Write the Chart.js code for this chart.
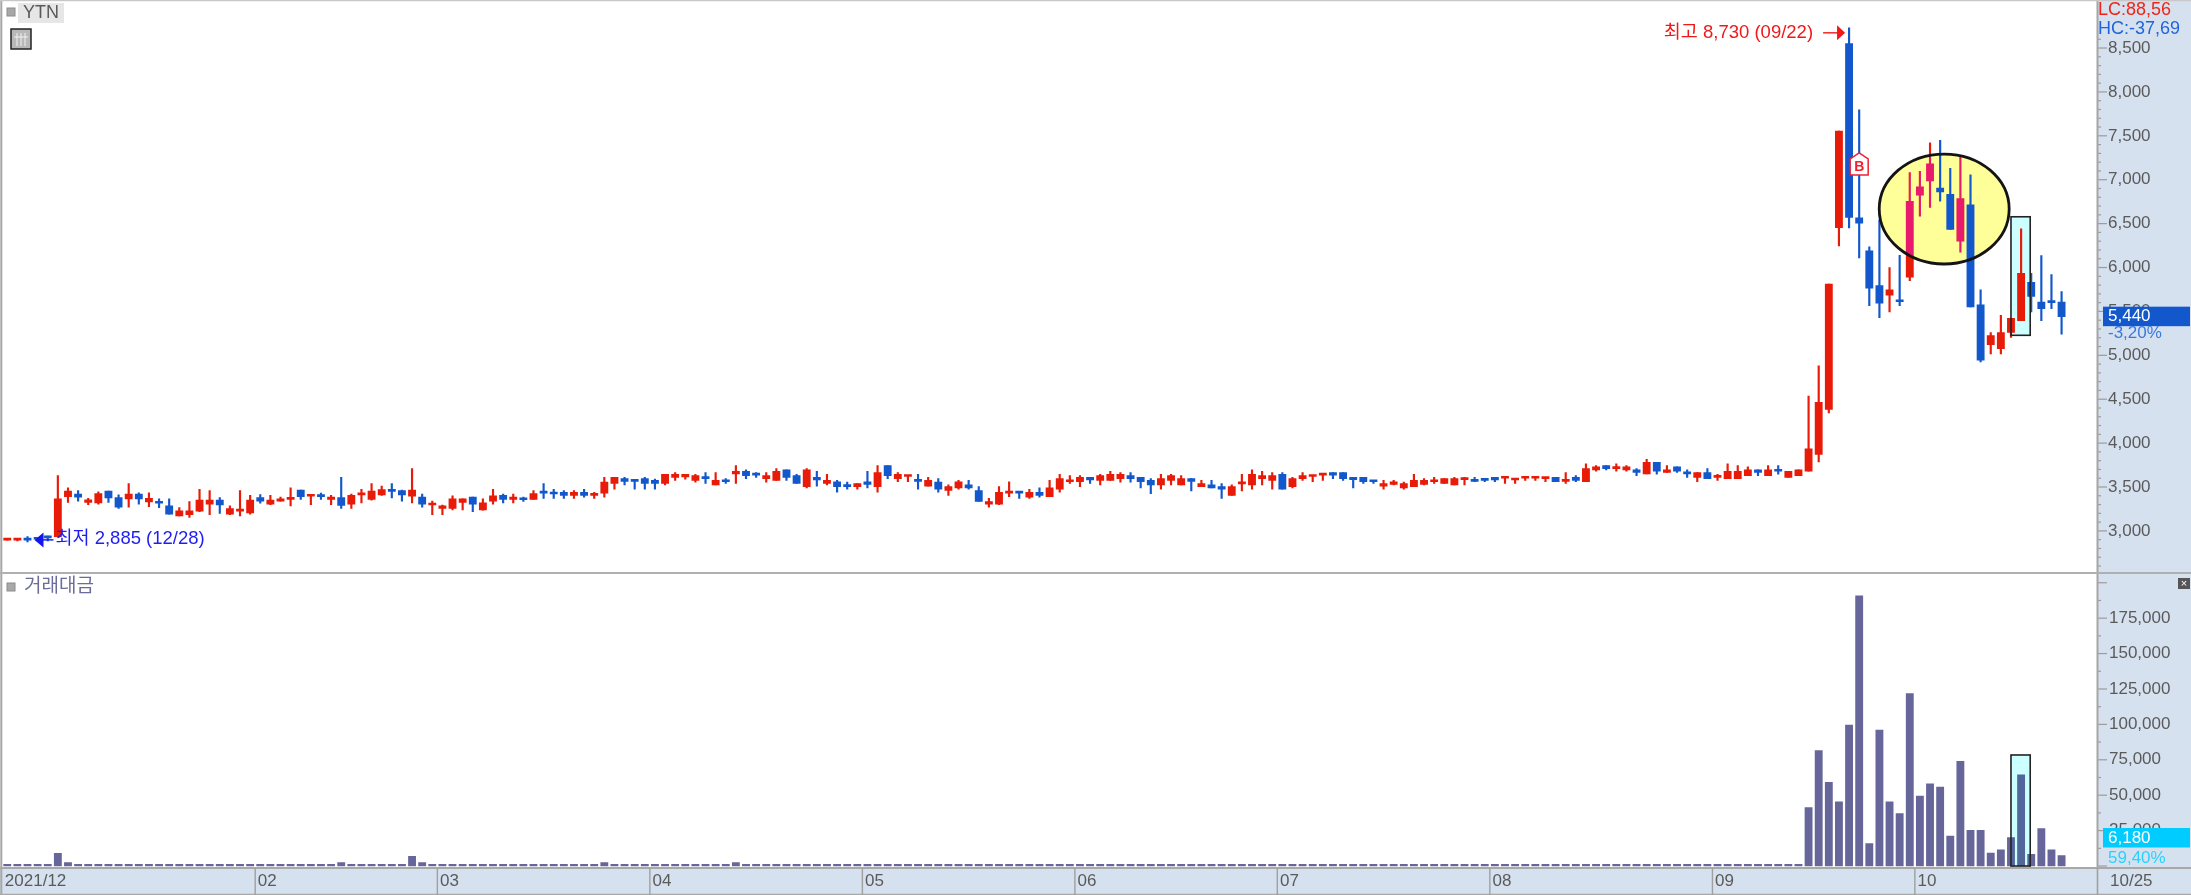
<!DOCTYPE html>
<html lang="ko">
<head>
<meta charset="utf-8">
<title>YTN</title>
<script src="https://cdn.jsdelivr.net/npm/chart.js@4/dist/chart.umd.min.js"></script>
<style>
html,body{margin:0;padding:0;background:#d6e1ef;overflow:hidden}
#wrap{position:relative;width:2191px;height:895px}
canvas{position:absolute;left:0;display:block}
#priceCanvas{top:0}
#volumeCanvas{top:572px}
</style>
</head>
<body>
<div id="wrap">
<canvas id="priceCanvas" width="2191" height="572"></canvas>
<canvas id="volumeCanvas" width="2191" height="323"></canvas>
</div>
<script>
const opens = [
2895,2895,2915,2910,2925,2935,3390,3420,3325,3320,
3455,3380,3365,3420,3330,3335,3285,3170,3185,3225,
3305,3350,3190,3225,3205,3380,3305,3340,3360,3465,
3395,3405,3360,3380,3305,3410,3360,3410,3470,3460,
3395,3385,3295,3255,3255,3325,3385,3240,3340,3405,
3360,3370,3360,3440,3440,3440,3405,3440,3405,3430,
3540,3595,3575,3595,3575,3540,3610,3615,3575,3610,
3525,3575,3650,3680,3650,3595,3575,3695,3630,3505,
3610,3540,3560,3525,3505,3560,3505,3745,3595,3620,
3575,3510,3555,3460,3490,3525,3460,3305,3305,3430,
3440,3385,3440,3390,3475,3560,3560,3610,3575,3575,
3595,3630,3610,3575,3525,3575,3525,3595,3505,3525,
3505,3405,3535,3525,3595,3575,3645,3505,3595,3620,
3635,3665,3665,3610,3610,3575,3510,3530,3490,3505,
3530,3560,3540,3525,3585,3575,3595,3610,3600,3580,
3600,3600,3595,3610,3565,3610,3560,3695,3745,3710,
3695,3695,3650,3780,3665,3730,3665,3610,3665,3610,
3595,3595,3630,3695,3630,3695,3610,3630,3680,3870,
4385,6455,8550,6565,6190,5795,5685,5630,5890,6825,
6985,6905,6835,6300,6715,5575,5120,5075,5260,5395,
5830,5605,5620,5605];
const highs = [
2900,2900,2935,2925,2940,3630,3490,3460,3370,3445,
3455,3410,3540,3435,3435,3365,3365,3265,3335,3475,
3460,3380,3285,3460,3405,3415,3405,3385,3490,3465,
3405,3430,3405,3610,3420,3475,3540,3510,3540,3465,
3710,3420,3340,3295,3400,3365,3385,3365,3475,3420,
3420,3385,3460,3540,3475,3460,3460,3475,3440,3610,
3610,3610,3575,3610,3590,3645,3665,3645,3645,3665,
3665,3595,3745,3695,3665,3665,3710,3695,3645,3710,
3680,3645,3575,3555,3540,3680,3745,3745,3665,3630,
3645,3610,3595,3525,3575,3575,3505,3370,3505,3560,
3440,3475,3490,3575,3645,3630,3630,3610,3645,3680,
3665,3665,3610,3595,3645,3645,3630,3595,3575,3575,
3540,3525,3645,3695,3680,3665,3665,3610,3665,3630,
3645,3665,3665,3610,3610,3575,3575,3575,3555,3645,
3595,3610,3595,3610,3610,3610,3595,3610,3610,3595,
3610,3610,3610,3610,3665,3630,3765,3745,3745,3765,
3745,3710,3815,3780,3745,3730,3695,3665,3710,3645,
3765,3745,3730,3695,3745,3745,3680,3695,4535,4880,
5810,7555,8730,7795,6235,6540,6000,6140,7080,7095,
7420,7450,7130,7255,7055,5745,5260,5455,5420,6440,
5935,6135,5920,5725];
const lows = [
2895,2885,2875,2890,2885,2935,3325,3340,3300,3305,
3325,3255,3270,3305,3275,3265,3190,3170,3155,3220,
3185,3200,3185,3170,3190,3315,3300,3340,3285,3360,
3300,3360,3300,3255,3255,3320,3350,3405,3375,3340,
3320,3270,3185,3185,3240,3240,3220,3235,3305,3320,
3320,3335,3360,3370,3370,3370,3370,3385,3370,3385,
3475,3525,3475,3475,3475,3525,3575,3590,3555,3540,
3525,3540,3540,3595,3610,3555,3575,3575,3540,3490,
3510,3525,3440,3475,3475,3490,3440,3595,3560,3560,
3475,3510,3440,3405,3475,3475,3335,3270,3300,3390,
3370,3370,3385,3390,3440,3540,3505,3540,3525,3575,
3555,3555,3490,3425,3475,3525,3525,3455,3505,3490,
3370,3405,3455,3475,3525,3475,3475,3490,3575,3560,
3575,3595,3575,3490,3540,3540,3475,3525,3475,3505,
3525,3540,3540,3525,3525,3560,3560,3560,3540,3540,
3575,3575,3560,3560,3540,3560,3560,3680,3695,3680,
3680,3630,3650,3645,3665,3665,3610,3560,3595,3575,
3595,3595,3630,3630,3630,3645,3610,3630,3680,3785,
4345,6245,6450,6110,5565,5430,5495,5565,5850,6585,
6685,6755,6435,6175,5550,4925,5015,5015,5205,5395,
5495,5395,5530,5240];
const closes = [
2900,2900,2895,2905,2920,3365,3455,3385,3355,3425,
3375,3270,3420,3365,3370,3315,3190,3230,3230,3350,
3350,3295,3255,3235,3350,3340,3350,3365,3380,3390,
3405,3390,3385,3290,3405,3430,3455,3470,3450,3410,
3465,3305,3305,3285,3365,3365,3305,3320,3400,3360,
3385,3355,3425,3430,3420,3405,3440,3405,3420,3555,
3610,3565,3565,3540,3540,3645,3645,3645,3630,3595,
3575,3560,3680,3630,3635,3630,3680,3610,3540,3695,
3580,3575,3505,3505,3540,3530,3665,3630,3645,3630,
3565,3575,3475,3505,3560,3490,3335,3335,3440,3440,
3430,3440,3405,3490,3595,3575,3610,3580,3630,3645,
3645,3595,3560,3525,3595,3630,3595,3565,3540,3490,
3475,3505,3540,3645,3630,3630,3475,3595,3630,3630,
3645,3635,3595,3585,3560,3560,3540,3560,3540,3575,
3575,3575,3595,3595,3595,3565,3575,3580,3610,3595,
3610,3610,3610,3560,3575,3575,3710,3730,3710,3725,
3730,3665,3780,3680,3695,3680,3650,3665,3595,3630,
3680,3680,3695,3665,3695,3680,3680,3695,3935,4465,
5810,7555,6570,6505,5765,5595,5745,5610,6755,6920,
7180,6860,6435,6785,5550,4945,5225,5260,5420,5935,
5670,5530,5600,5440];
const volumes = [
1200,1200,1200,1200,1200,9000,2500,1200,1200,1200,
1200,1200,1200,1200,1200,1200,1200,1200,1200,1200,
1200,1200,1200,1200,1200,1200,1200,1200,1200,1200,
1200,1200,1200,2500,1200,1200,1200,1200,1200,1200,
6800,2500,1200,1200,1200,1200,1200,1200,1200,1200,
1200,1200,1200,1200,1200,1200,1200,1200,1200,2500,
1200,1200,1200,1200,1200,1200,1200,1200,1200,1200,
1200,1200,2500,1200,1200,1200,1200,1200,1200,1200,
1200,1200,1200,1200,1200,1200,1200,1200,1200,1200,
1200,1200,1200,1200,1200,1200,1200,1200,1200,1200,
1200,1200,1200,1200,1200,1200,1200,1200,1200,1200,
1200,1200,1200,1200,1200,1200,1200,1200,1200,1200,
1200,1200,1200,1200,1200,1200,1200,1200,1200,1200,
1200,1200,1200,1200,1200,1200,1200,1200,1200,1200,
1200,1200,1200,1200,1200,1200,1200,1200,1200,1200,
1200,1200,1200,1200,1200,1200,1200,1200,1200,1200,
1200,1200,1200,1200,1200,1200,1200,1200,1200,1200,
1200,1200,1200,1200,1200,1200,1200,1200,41200,81450,
59100,45400,99600,190700,15800,96000,45400,37000,121700,49400,
58100,55800,21200,73900,25200,25200,9200,11500,20000,64300,
8200,26400,11500,7300];
const priceTicks = [3000,3500,4000,4500,5000,5500,6000,6500,7000,7500,8000,8500];
const volumeTicks = [25000,50000,75000,100000,125000,150000,175000];
const monthTickIndex = [0,25,43,64,85,106,126,147,169,189];
const monthTickText = ['2021/12','02','03','04','05','06','07','08','09','10'];
const emptySlotsAtRight = 3;
const lastDateText = '10/25';
const highNote = '최고 8,730 (09/22)';
const lowNote = '최저 2,885 (12/28)';
const volumeTitle = '거래대금';
const symbolName = 'YTN';
const lcText = 'LC:88,56';
const hcText = 'HC:-37,69';
const lastPriceText = '5,440';
const lastPriceChange = '-3,20%';
const lastVolumeText = '6,180';
const lastVolumeChange = '59,40%';

const RED='#e81a08', BLUE='#1258cc', VOL='#66669a', BAND='#d6e1ef', GREY='#a6a6a6', TXT='#5a5a5a';
const FONT='"Liberation Sans","Noto Sans CJK KR",sans-serif';
const slotCount = opens.length + emptySlotsAtRight;
const slotLabels = Array.from({length:slotCount},(_,i)=>{const k=monthTickIndex.indexOf(i);return k>=0?monthTickText[k]:'';});
const candleColors = opens.map((o,i)=>closes[i]>=o?RED:BLUE);

function text(c,s,x,y,color,size,align,weight){
  c.fillStyle=color;c.font=(weight||'normal')+' '+size+'px '+FONT;c.textAlign=align||'left';c.textBaseline='middle';c.fillText(s,x,y);
}
function hLine(c,x0,x1,y,color,w){c.fillStyle=color;c.fillRect(x0,y-w/2,x1-x0,w);}
function vLine(c,x,y0,y1,color,w){c.fillStyle=color;c.fillRect(x-w/2,y0,w,y1-y0);}
function axisMarks(chart,step,majorEvery,lo,hi){
  const c=chart.ctx,s=chart.scales.y,a=chart.chartArea;
  for(let v=lo;v<=hi;v+=step){
    const y=s.getPixelForValue(v);
    hLine(c,a.right,a.right+(v%majorEvery===0?10:4),y,'#9c9c9c',1.2);
  }
}
function backgroundPlugin(){return{id:'bg',beforeDraw(chart){
  const c=chart.ctx,a=chart.chartArea;
  c.save();c.fillStyle=BAND;c.fillRect(0,0,chart.width,chart.height);
  c.fillStyle='#fff';c.fillRect(0,a.top,a.right,a.bottom-a.top);
  c.restore();
}};}

const highlightFirst=198, highlightLast=199.9;
const ellipseCenterIndex=191.4, ellipseCenterPrice=6666, ellipseIndexRadius=6.42, ellipsePriceRadius=626;
const boxTopPrice=6578, boxBottomPrice=5228, boxTopVolume=78400, boxBottomVolume=0;
const buyMarkerIndex=183, buyMarkerPrice=7180;

function ellipsePath(chart){
  const x=chart.scales.x,y=chart.scales.y,c=chart.ctx;
  const cx=x.getPixelForValue(ellipseCenterIndex),cy=y.getPixelForValue(ellipseCenterPrice);
  const rx=x.getPixelForValue(ellipseCenterIndex+ellipseIndexRadius)-cx;
  const ry=cy-y.getPixelForValue(ellipseCenterPrice+ellipsePriceRadius);
  c.beginPath();c.ellipse(cx,cy,rx,ry,0,0,Math.PI*2);
}
function boxRect(chart,top,bottom){
  const x=chart.scales.x,y=chart.scales.y;
  const x0=x.getPixelForValue(highlightFirst),x1=x.getPixelForValue(highlightLast);
  const y0=y.getPixelForValue(top),y1=y.getPixelForValue(bottom);
  return [x0,y0,x1-x0,y1-y0];
}

const pricePlugin={id:'priceOverlay',
  beforeDatasetsDraw(chart){
    const c=chart.ctx;c.save();
    c.fillStyle='#ccffff';c.fillRect(...boxRect(chart,boxTopPrice,boxBottomPrice));
    ellipsePath(chart);c.fillStyle='#ffff99';c.fill();
    c.restore();
  },
  afterDatasetsDraw(chart){
    const c=chart.ctx,x=chart.scales.x,y=chart.scales.y;
    c.save();
    ellipsePath(chart);c.clip();
    c.globalCompositeOperation='lighten';c.fillStyle='#00006e';
    c.fillRect(0,0,chart.width,chart.height);
    c.restore();
    c.save();
    ellipsePath(chart);c.strokeStyle='#141414';c.lineWidth=2.8;c.stroke();
    c.strokeStyle='#222';c.lineWidth=1.6;c.strokeRect(...boxRect(chart,boxTopPrice,boxBottomPrice));
    // buy marker
    const bx=x.getPixelForValue(buyMarkerIndex),by=y.getPixelForValue(buyMarkerPrice);
    c.beginPath();c.moveTo(bx,by-11);c.lineTo(bx+9,by-5);c.lineTo(bx+9,by+11);c.lineTo(bx-9,by+11);c.lineTo(bx-9,by-5);c.closePath();
    c.fillStyle='#fff';c.fill();c.strokeStyle='#f02030';c.lineWidth=1.5;c.stroke();
    text(c,'B',bx,by+3.5,'#f02030',14,'center','bold');
    // high note
    const hy=y.getPixelForValue(Math.max(...highs))+5,hx=x.getPixelForValue(182)-4;
    c.beginPath();c.moveTo(hx,hy);c.lineTo(hx-8,hy-7.5);c.lineTo(hx-8,hy+7.5);c.closePath();c.fillStyle='#f01818';c.fill();
    hLine(c,hx-22,hx-7,hy,'#f01818',1.4);
    text(c,highNote,hx-32,hy,'#f01818',18.5,'right');
    // low note
    const ly=y.getPixelForValue(Math.min(...lows))-2,lx=x.getPixelForValue(2)+7;
    c.beginPath();c.moveTo(lx,ly);c.lineTo(lx+9,ly-7.5);c.lineTo(lx+9,ly+7.5);c.closePath();c.fillStyle='#1414f0';c.fill();
    hLine(c,lx+8,lx+19,ly,'#1414f0',1.4);
    text(c,lowNote,lx+21,ly-1,'#1e1ef0',18.5,'left');
    c.restore();
  },
  afterDraw(chart){
    const c=chart.ctx,a=chart.chartArea,y=chart.scales.y;
    c.save();
    axisMarks(chart,100,500,2600,8600);
    vLine(c,a.right+.5,0,chart.height,GREY,2);
    vLine(c,1.3,0,chart.height,GREY,2);
    hLine(c,0,chart.width,.5,'#c8c8c8',1.5);
    text(c,lcText,a.right+1,10.5,'#f02418',18);
    text(c,hcText,a.right+1,29,'#1e64dc',18);
    const py=y.getPixelForValue(closes[closes.length-1]);
    c.fillStyle=BLUE;c.fillRect(2103,py-10,87,19.5);
    text(c,lastPriceText,2108,py,'#fff',17);
    text(c,lastPriceChange,2108,py+17,'#3c78dc',17);
    // symbol header
    c.fillStyle='#a8a8a8';c.fillRect(7,8,8,8);c.strokeStyle='#8c8c8c';c.strokeRect(7,8,8,8);
    c.fillStyle='#e6e6e6';c.fillRect(18,3,46,20);
    text(c,symbolName,41,13.5,TXT,18,'center');
    c.fillStyle='#b8b8b8';c.fillRect(11,29,20,20);
    c.strokeStyle='#222';c.lineWidth=1.5;c.strokeRect(11,29,20,20);
    c.strokeStyle='#f2f2f2';c.lineWidth=1;
    c.beginPath();for(const gx of [17,21,25]){c.moveTo(gx,33);c.lineTo(gx,46);}c.moveTo(14,37);c.lineTo(28,37);c.stroke();
    c.restore();
  }
};

const volumePlugin={id:'volumeOverlay',
  afterDatasetsDraw(chart){
    const c=chart.ctx;
    const r=boxRect(chart,boxTopVolume,boxBottomVolume);
    c.save();
    c.globalCompositeOperation='multiply';c.fillStyle='#ccffff';c.fillRect(...r);
    c.globalCompositeOperation='source-over';
    c.strokeStyle='#222';c.lineWidth=1.6;c.strokeRect(...r);
    c.restore();
  },
  afterDraw(chart){
    const c=chart.ctx,a=chart.chartArea,x=chart.scales.x;
    c.save();
    axisMarks(chart,12500,25000,0,200000);
    vLine(c,a.right+.5,0,a.bottom,GREY,2);
    vLine(c,1.3,0,chart.height,GREY,2);
    hLine(c,0,chart.width,1,'#b0b0b0',2);
    hLine(c,0,chart.width,a.bottom,'#a8a8a8',2);
    hLine(c,0,chart.width,chart.height-.5,'#a8a8a8',1.5);
    const half=(x.getPixelForValue(1)-x.getPixelForValue(0))/2;
    monthTickIndex.forEach(i=>{ if(i>0) vLine(c,x.getPixelForValue(i)-half,a.bottom,chart.height,'#a0a0a0',1.4); });
    vLine(c,a.right+.5,a.bottom,chart.height,'#a0a0a0',1.6);
    text(c,lastDateText,2110,a.bottom+13,TXT,17);
    text(c,volumeTitle,24,15,'#6c6c9c',19);
    c.fillStyle='#a8a8a8';c.fillRect(7,11,8,8);c.strokeStyle='#8c8c8c';c.strokeRect(7,11,8,8);
    c.fillStyle='#555';c.fillRect(2178,6,12,11);
    text(c,'×',2184,11.5,'#fff',11,'center');
    c.fillStyle='#00ccff';c.fillRect(2103,256,87,19.5);
    text(c,lastVolumeText,2108,266,'#fff',17);
    text(c,lastVolumeChange,2108,286,'#28d2ff',17);
    c.restore();
  }
};

const rightAxisFit=s=>{s.width=94;s.paddingTop=0;s.paddingBottom=0;s.paddingLeft=0;s.paddingRight=0;};
const numberLabel=v=>v.toLocaleString('en-US');
Chart.defaults.animation=false;
Chart.defaults.devicePixelRatio=1;

new Chart(document.getElementById('priceCanvas'),{
  type:'bar',
  data:{labels:slotLabels,datasets:[
    {label:'body',data:opens.map((o,i)=>[o,closes[i]]),backgroundColor:candleColors,barThickness:7.2,minBarLength:2,grouped:false},
    {label:'wick',data:lows.map((l,i)=>[l,highs[i]]),backgroundColor:candleColors,barThickness:1.5,grouped:false}
  ]},
  options:{
    responsive:false,maintainAspectRatio:false,animation:false,
    layout:{autoPadding:false,padding:{left:2.2,right:0,top:0,bottom:0}},
    plugins:{legend:{display:false},tooltip:{enabled:false}},
    scales:{
      x:{type:'category',display:false,offset:true,grid:{display:false}},
      y:{position:'right',min:2532,max:9047,afterFit:rightAxisFit,
        afterBuildTicks:s=>{s.ticks=priceTicks.map(value=>({value}));},
        grid:{display:false,drawTicks:false},border:{display:false},
        ticks:{autoSkip:false,padding:11,color:TXT,font:{family:FONT,size:17},callback:numberLabel}}
    }
  },
  plugins:[backgroundPlugin(),pricePlugin]
});

new Chart(document.getElementById('volumeCanvas'),{
  type:'bar',
  data:{labels:slotLabels,datasets:[
    {label:'거래대금',data:volumes,backgroundColor:VOL,barThickness:7.2}
  ]},
  options:{
    responsive:false,maintainAspectRatio:false,animation:false,
    layout:{autoPadding:false,padding:{left:2.2,right:0,top:0,bottom:0}},
    plugins:{legend:{display:false},tooltip:{enabled:false}},
    scales:{
      x:{type:'category',offset:true,afterFit:s=>{s.height=27;s.paddingLeft=0;s.paddingRight=0;s.paddingTop=0;s.paddingBottom=0;},
        grid:{display:false,drawTicks:false},border:{display:false},
        ticks:{autoSkip:false,maxRotation:0,minRotation:0,align:'start',labelOffset:-2.4,padding:3,color:TXT,font:{family:FONT,size:17}}},
      y:{position:'right',min:-1400,max:207600,afterFit:rightAxisFit,
        afterBuildTicks:s=>{s.ticks=volumeTicks.map(value=>({value}));},
        grid:{display:false,drawTicks:false},border:{display:false},
        ticks:{autoSkip:false,padding:12,color:TXT,font:{family:FONT,size:17},callback:numberLabel}}
    }
  },
  plugins:[backgroundPlugin(),volumePlugin]
});
</script>
</body>
</html>
